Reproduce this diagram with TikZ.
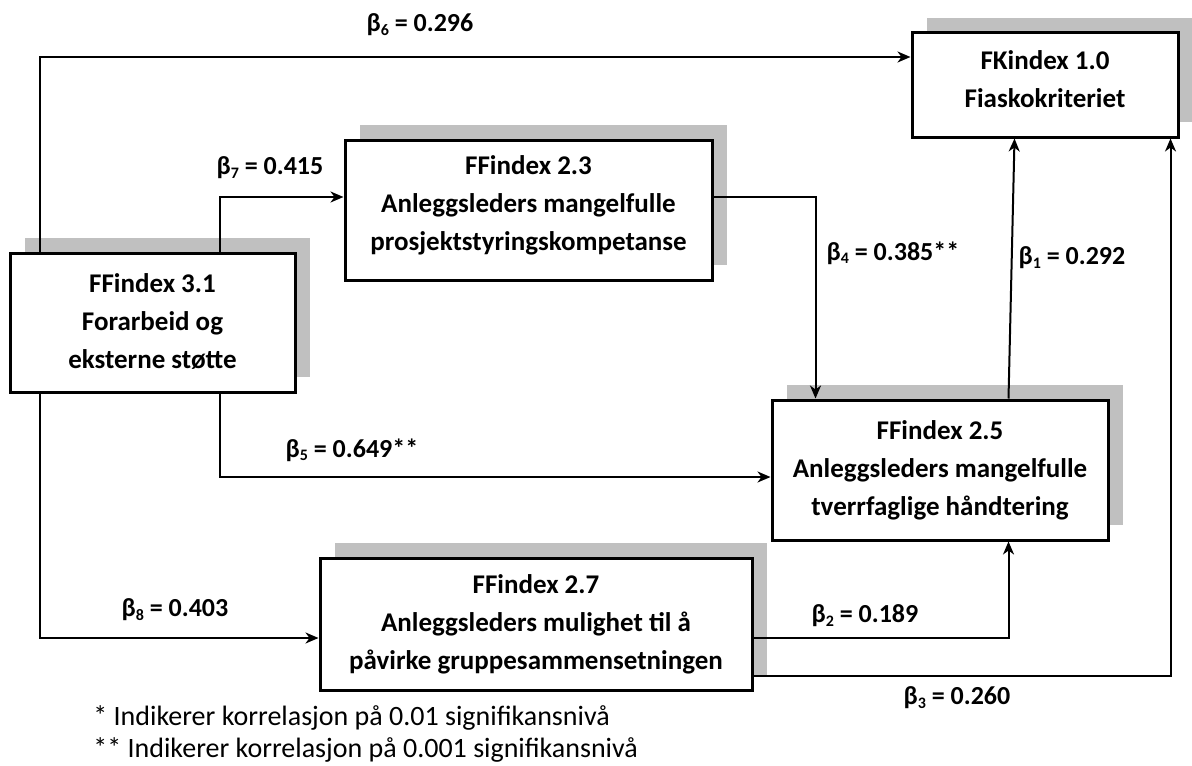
\documentclass[tikz,border=0pt]{standalone}
\usepackage{fontspec}
\setmainfont{Carlito}
\usetikzlibrary{calc,arrows.meta,shadows}
\definecolor{shadowgray}{RGB}{192,192,192}
\newcommand{\bsub}[1]{β\raisebox{-0.3ex}{\fontsize{8}{8}\selectfont #1}}
\begin{document}
\begin{tikzpicture}[x=0.5pt,y=-0.5pt,
  factorbox/.style={draw, line width=1.5pt, fill=white, inner sep=0pt,
    drop shadow={shadow xshift=7.5pt, shadow yshift=7.5pt, opacity=1, fill=shadowgray}},
  boxtext/.style={align=center, inner sep=0pt,
    font=\bfseries\fontsize{13.5}{19}\selectfont},
  conn/.style={line width=1pt, -{Stealth[length=6.5pt,width=5.5pt,inset=2pt]}},
  coef/.style={font=\bfseries\fontsize{13}{15}\selectfont, inner sep=0pt},
  note/.style={font=\fontsize{14}{16}\selectfont, anchor=west, inner sep=0pt}]
\useasboundingbox (0,0) rectangle (1192,765);

% factor boxes, with their text set as a centred label
\node[factorbox, minimum width=133pt, minimum height=52pt,
  label={[boxtext, yshift=2.75pt]center:FKindex 1.0\\Fiaskokriteriet}] (FK) at (1045,85) {};
\node[factorbox, minimum width=183.5pt, minimum height=70pt,
  label={[boxtext, yshift=2.5pt]center:FFindex 2.3\\Anleggsleders mangelfulle\\prosjektstyringskompetanse}] (B23) at (528.5,210) {};
\node[factorbox, minimum width=142.5pt, minimum height=69.5pt,
  label={[boxtext, yshift=0.5pt]center:FFindex 3.1\\Forarbeid og\\eksterne støtte}] (B31) at (152.5,322.5) {};
\node[factorbox, minimum width=168pt, minimum height=70pt,
  label={[boxtext]center:FFindex 2.5\\Anleggsleders mangelfulle\\tverrfaglige håndtering}] (B25) at (940,470) {};
\node[factorbox, minimum width=216pt, minimum height=66pt,
  label={[boxtext]center:FFindex 2.7\\Anleggsleders mulighet til å\\påvirke gruppesammensetningen}] (B27) at (536,624) {};

% paths between factors
\draw[conn] ($(B31.north west)+(31,0)$) |- ($(FK.west)+(0,-28)$);
\draw[conn] ($(B31.north west)+(211,0)$) |- ($(B23.west)+(0,-13)$);
\draw[conn] ($(B23.east)+(0,-13)$) -| ($(B25.north west)+(45,0)$);
\draw[conn] ($(B25.north west)+(238,0)$) -- ($(FK.south west)+(104,0)$);
\draw[conn] ($(B31.south west)+(211,0)$) |- ($(B25.west)+(0,7)$);
\draw[conn] ($(B31.south west)+(31,0)$) |- ($(B27.west)+(0,14)$);
\draw[conn] ($(B27.east)+(0,14)$) -| ($(B25.south west)+(238,0)$);
\draw[conn] ($(B27.east)+(0,52)$) -| ($(FK.south west)+(260,0)$);

% path coefficients
\node[coef] (c6) at (420,25) {\bsub{6} = 0.296};
\node[coef] (c7) at (270,168) {\bsub{7} = 0.415};
\node[coef] (c4) at (893,253) {\bsub{4} = 0.385**};
\node[coef] (c1) at (1072,258) {\bsub{1} = 0.292};
\node[coef] (c5) at (352,450) {\bsub{5} = 0.649**};
\node[coef] (c8) at (175,610) {\bsub{8} = 0.403};
\node[coef] (c2) at (865,616) {\bsub{2} = 0.189};
\node[coef] (c3) at (957,698) {\bsub{3} = 0.260};

% significance notes
\node[note] (n1) at (93,718) {* Indikerer korrelasjon på 0.01 signifikansnivå};
\node[note] (n2) at (93,750) {** Indikerer korrelasjon på 0.001 signifikansnivå};
\end{tikzpicture}
\end{document}
